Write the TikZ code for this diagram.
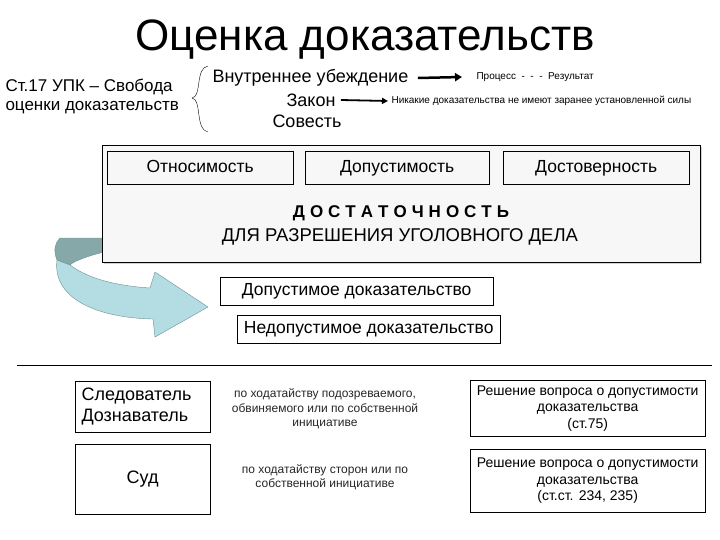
\documentclass[tikz,border=0pt]{standalone}
\usepackage{fontspec}
\setmainfont{Liberation Sans}
\usetikzlibrary{shadows,decorations.pathreplacing,arrows.meta}
\definecolor{arrlight}{HTML}{B4DDE3}
\definecolor{arrdark}{HTML}{86A8A8}
\definecolor{arredge}{HTML}{6E9090}
\begin{document}
\begin{tikzpicture}[x=1pt,y=-1pt,
  box/.style={draw=black,fill=white,inner sep=0pt,font=\fontsize{17.5}{19}\selectfont},
  one/.style={text height=12.5pt,text depth=3.5pt},
  sbox/.style={box,fill=gray!6,drop shadow={opacity=0.35,shadow xshift=2pt,shadow yshift=-2pt}},
  small/.style={font=\fontsize{10}{12}\selectfont},
  mid/.style={font=\fontsize{12}{14.5}\selectfont,align=center,text=black!85},
  fat/.style={line width=2.5pt,-{Triangle[length=7pt,width=8pt]}},
  txt/.style={font=\fontsize{18}{20}\selectfont}]
\useasboundingbox (0,0) rectangle (720,540);
\node (title) at (365,40) {\fontsize{44}{48}\selectfont Оценка доказательств};
\node[align=left,font=\fontsize{17}{19}\selectfont,anchor=west] (st) at (2,96) {Ст.17 УПК – Свобода\\оценки доказательств};
\coordinate (b1) at (208,66);
\coordinate (b2) at (208,132);
\draw[thin] (b1) .. controls (195,68) and (202,97) .. (192,98) .. controls (202,99) and (195,130) .. (b2);
\node[txt,anchor=west] (vu) at (209,78) {Внутреннее убеждение};
\node[txt] (zak) at (311,100) {Закон};
\node[txt] (sov) at (307,121) {Совесть};
\node[small,anchor=west] (proc) at (473,77) {Процесс \ - \ - \ - \ Результат};
\node[small,anchor=west] (nik) at (388,101) {Никакие доказательства не имеют заранее установленной силы};
\draw[fat] (vu.east)+(6,0) -- (proc.west -| 462,0);
\draw[line width=1.8pt,-{Triangle[length=6pt,width=6pt]}] (zak.east) ++(2,0) -- (nik.west);
% curved arrow dark part
\fill[draw=arredge,fill=arrdark] (57,260) .. controls (53,250) and (55,243) .. (60,238) -- (104,238) -- (104,252) .. controls (88,256) and (74,261) .. (70,265) -- cycle;
% big box
\node[sbox,minimum width=598pt,minimum height=117pt,anchor=north west] (big) at (102,145) {};
\node[box,one,fill=gray!6,minimum width=186pt,minimum height=33pt,anchor=north west] (otn) at (107,151) {Относимость};
\node[box,one,fill=gray!6,minimum width=184pt,minimum height=33pt,anchor=north west] (dop) at (305,151) {Допустимость};
\node[box,one,fill=gray!6,minimum width=186pt,minimum height=33pt,anchor=north west] (dos) at (503,151) {Достоверность};
\node[font=\fontsize{17}{19}\selectfont\bfseries] (dost) at (401,213) {Д\hspace{5pt}О\hspace{5pt}С\hspace{5pt}Т\hspace{5pt}А\hspace{5pt}Т\hspace{5pt}О\hspace{5pt}Ч\hspace{5pt}Н\hspace{5pt}О\hspace{5pt}С\hspace{5pt}Т\hspace{5pt}Ь};
\node[font=\fontsize{18.5}{20}\selectfont] (dlya) at (400,237) {ДЛЯ РАЗРЕШЕНИЯ УГОЛОВНОГО ДЕЛА};
% curved arrow light part
\fill[draw=arredge,fill=arrlight] (57,260) -- (70,265) .. controls (90,280) and (120,286) .. (150,288) -- (155,272) -- (208,307) -- (155,337) -- (153,319) .. controls (100,318) and (52,300) .. (57,260) -- cycle;
\node[box,one,minimum width=273pt,minimum height=28pt,anchor=north west] (dd) at (220,277) {Допустимое доказательство};
\node[box,one,minimum width=263pt,minimum height=28pt,anchor=north west] (nd) at (237,315) {Недопустимое доказательство};
\coordinate (l1) at (17,365);
\coordinate (l2) at (712,365);
\draw[thick] (l1) -- (l2);
\node[box,minimum width=135pt,minimum height=51pt,anchor=north west] (sl) at (75,381) {};
\node[font=\fontsize{18}{21}\selectfont,align=left,anchor=west] (sltxt) at ([xshift=3pt]sl.west) {Следователь\\Дознаватель};
\node[box,one,font=\fontsize{18}{20}\selectfont,minimum width=135pt,minimum height=70pt,anchor=north west] (sud) at (75,444) {Суд};
\node[mid] (m1) at (325,409) {по ходатайству подозреваемого,\\обвиняемого или по собственной\\инициативе};
\node[mid] (m2) at (325,477) {по ходатайству сторон или по\\собственной инициативе};
\node[box,minimum width=235pt,minimum height=56pt,anchor=north west,align=center,font=\fontsize{14}{16.5}\selectfont] (r1) at (470,380) {Решение вопроса о допустимости\\доказательства\\(ст.75)};
\node[box,minimum width=235pt,minimum height=63pt,anchor=north west,align=center,font=\fontsize{14}{16.5}\selectfont] (r2) at (470,449) {Решение вопроса о допустимости\\доказательства\\(ст.ст. 234, 235)};
\end{tikzpicture}
\end{document}
